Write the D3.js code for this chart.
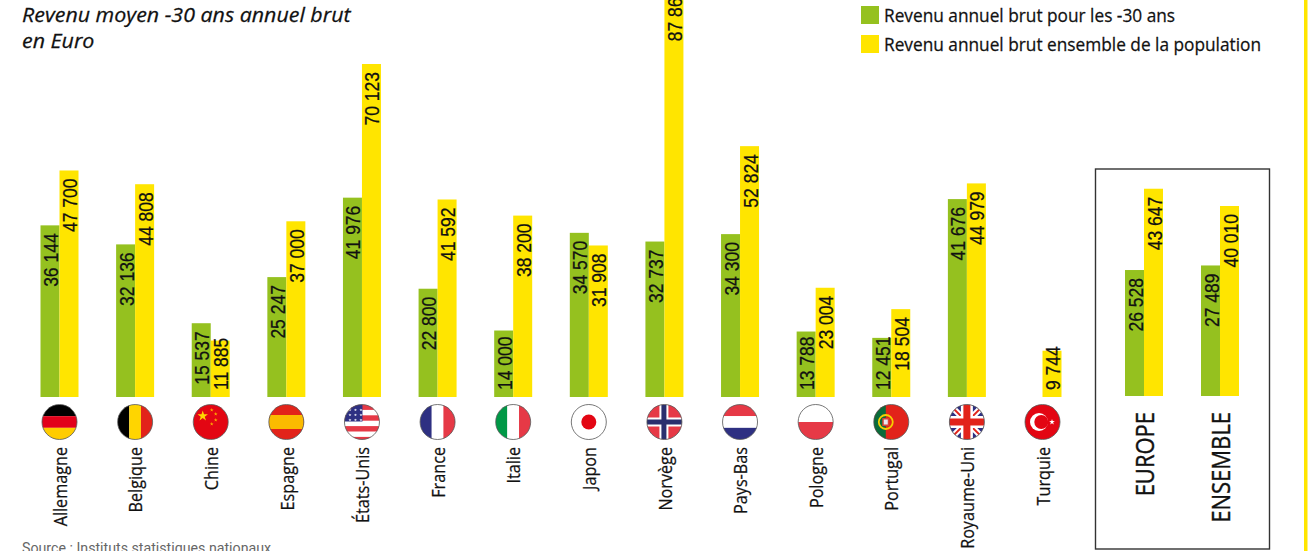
<!DOCTYPE html>
<html lang="fr">
<head>
<meta charset="utf-8">
<script src="https://cdn.jsdelivr.net/npm/d3@7"></script>
<style>
  html, body { margin: 0; padding: 0; background: #fff; overflow: hidden; }
  .val { font-family: "Liberation Sans", sans-serif; font-size: 20px; fill: #111; stroke: #111; stroke-width: 0.25px; }
  .name { font-family: "Open Sans", sans-serif; font-size: 18px; fill: #111; stroke: #111; stroke-width: 0.25px; }
  .agg { font-family: "Open Sans", sans-serif; font-size: 25px; fill: #111; stroke: #111; stroke-width: 0.4px; }
  .legend { font-family: "Open Sans", sans-serif; font-size: 18px; fill: #111; stroke: #111; stroke-width: 0.25px; }
  .title { font-family: "Open Sans", sans-serif; font-size: 20px; font-style: italic; fill: #111; stroke: #111; stroke-width: 0.25px; }
  .source { font-family: "Roboto", sans-serif; font-size: 14.2px; fill: #666; }
</style>
</head>
<body>
<div id="chart"></div>
<script>
const countries = ["Allemagne","Belgique","Chine","Espagne","États-Unis","France","Italie","Japon","Norvège","Pays-Bas","Pologne","Portugal","Royaume-Uni","Turquie"];
const young = [36144,32136,15537,25247,41976,22800,14000,34570,32737,34300,13788,12451,41676,null];
const all = [47700,44808,11885,37000,70123,41592,38200,31908,87860,52824,23004,18504,44979,9744];
const aggNames = ["EUROPE","ENSEMBLE"];
const aggYoung = [26528,27489];
const aggAll = [43647,40010];
const legendLabels = ["Revenu annuel brut pour les -30 ans","Revenu annuel brut ensemble de la population"];

const GREEN = "#95c11f", YELLOW = "#ffe500";
const width = 1316, height = 551;
const barW = 19;

const svg = d3.select("#chart").append("svg")
  .attr("width", width)
  .attr("height", height)
  .style("display", "block");

// value scale, same slope for the countries and the box
const y = d3.scaleLinear().domain([0, 70123]).range([397, 64]);
const yAgg = d3.scaleLinear().domain([0, 70123]).range([396, 63]);

const x = d3.scalePoint().domain(countries).range([59.5, 1042.5]);
const xAgg = d3.scalePoint().domain(aggNames).range([1144, 1220]);

const fmt = d => d3.format(",")(d).replace(",", " ");

function drawBars(names, xs, ys, series, color, dx) {
  const data = names.map((n, i) => ({name: n, v: series[i]})).filter(d => d.v != null);
  const g = svg.append("g");
  g.selectAll("rect").data(data).enter().append("rect")
    .attr("x", d => xs(d.name) + dx)
    .attr("y", d => ys(d.v))
    .attr("width", barW)
    .attr("height", d => ys(0) - ys(d.v))
    .attr("fill", color);
  // label hangs from the bar top, short bars get it sitting on the base instead
  const sx = 0.875;
  g.selectAll("text").data(data).enter().append("text")
    .attr("class", "val")
    .text(d => fmt(d.v))
    .attr("text-anchor", "end")
    .attr("transform", function(d) {
      const len = this.getComputedTextLength() * sx;
      let top = ys(d.v) + 8;
      if (top + len > ys(0) - 7) top = ys(0) - 7 - len;
      return "translate(" + (xs(d.name) + dx + 17.5) + "," + top + ")rotate(-90)scale(" + sx + ",1)";
    });
}

drawBars(countries, x, y, young, GREEN, -barW);
drawBars(countries, x, y, all, YELLOW, 0);
drawBars(aggNames, xAgg, yAgg, aggYoung, GREEN, -barW);
drawBars(aggNames, xAgg, yAgg, aggAll, YELLOW, 0);

// flags, drawn around their centre and clipped to a circle
const R = 17.5, flagY = 422;
svg.append("defs").append("clipPath").attr("id", "round")
  .append("circle").attr("r", R);

function stripes(g, cols, vertical) {
  const s = d3.scaleBand().domain(d3.range(cols.length)).range([-R, R]);
  cols.forEach((c, i) => {
    g.append("rect")
      .attr("x", vertical ? s(i) : -R).attr("y", vertical ? -R : s(i))
      .attr("width", vertical ? s.bandwidth() : 2 * R)
      .attr("height", vertical ? 2 * R : s.bandwidth())
      .attr("fill", c);
  });
}
function box(g, x0, y0, w, h, c) {
  g.append("rect").attr("x", x0).attr("y", y0).attr("width", w).attr("height", h).attr("fill", c);
}
function star(g, cx, cy, r, c) {
  g.append("path").attr("transform", "translate(" + cx + "," + cy + ")")
    .attr("d", d3.symbol(d3.symbolStar, r * r / 0.89)()).attr("fill", c);
}

const flags = {
  "Allemagne": g => { stripes(g, ["#000", "#e2001a", "#ffcc00"]); },
  "Belgique": g => { stripes(g, ["#000", "#ffd500", "#e2231a"], true); },
  "Chine": g => {
    box(g, -R, -R, 2 * R, 2 * R, "#e30613");
    star(g, -8, -6, 5.5, "#ffd500");
    [[1, -12], [5, -8], [5, -2], [1, 2]].forEach(p => star(g, p[0], p[1], 2, "#ffb000"));
  },
  "Espagne": g => {
    box(g, -R, -R, 2 * R, 2 * R, "#e2231a");
    box(g, -R, -7, 2 * R, 14, "#fbbb00");
  },
  "États-Unis": g => {
    box(g, -R, -R, 2 * R, 2 * R, "#fff");
    d3.range(0, 7).forEach(i => { if (i % 2 == 0) box(g, -R, -R + i * 5.4, 2 * R, 2.9 + 2.5, "#e63946"); });
    box(g, -R, -R, 18, 17, "#2e3082");
    d3.range(3).forEach(r => d3.range(3).forEach(c => star(g, -12 + c * 5.5, -12 + r * 5, 1.6, "#fff")));
  },
  "France": g => { stripes(g, ["#2e3082", "#fff", "#e63946"], true); },
  "Italie": g => { stripes(g, ["#009846", "#fff", "#e63946"], true); },
  "Japon": g => {
    box(g, -R, -R, 2 * R, 2 * R, "#fff");
    g.append("circle").attr("r", 7.5).attr("fill", "#e30613");
  },
  "Norvège": g => {
    box(g, -R, -R, 2 * R, 2 * R, "#e63946");
    box(g, -5, -R, 9, 2 * R, "#fff");
    box(g, -R, -4.5, 2 * R, 9, "#fff");
    box(g, -3, -R, 5, 2 * R, "#2a2f6e");
    box(g, -R, -2.5, 2 * R, 5, "#2a2f6e");
  },
  "Pays-Bas": g => { stripes(g, ["#e63946", "#fff", "#2e3082"]); },
  "Pologne": g => { stripes(g, ["#fff", "#e63946"]); },
  "Portugal": g => {
    box(g, -R, -R, 2 * R, 2 * R, "#e2231a");
    box(g, -R, -R, 12, 2 * R, "#0a6b3a");
    g.append("circle").attr("cx", -5.5).attr("r", 7).attr("fill", "none").attr("stroke", "#f5d000").attr("stroke-width", 1.8);
    box(g, -9, -4, 7, 8, "#d8453a");
    box(g, -7.5, -2.5, 4, 5, "#e8e8f0");
  },
  "Royaume-Uni": g => {
    box(g, -R, -R, 2 * R, 2 * R, "#2e3082");
    [["M-18,-18L18,18", 6, "#fff"], ["M-18,18L18,-18", 6, "#fff"], ["M-18,-18L18,18", 2, "#e2231a"], ["M-18,18L18,-18", 2, "#e2231a"]]
      .forEach(p => g.append("path").attr("d", p[0]).attr("stroke", p[2]).attr("stroke-width", p[1]));
    box(g, -R, -6, 2 * R, 12, "#fff");
    box(g, -6, -R, 12, 2 * R, "#fff");
    box(g, -R, -3.5, 2 * R, 7, "#e2231a");
    box(g, -3.5, -R, 7, 2 * R, "#e2231a");
  },
  "Turquie": g => {
    box(g, -R, -R, 2 * R, 2 * R, "#e30613");
    g.append("circle").attr("cx", -3.5).attr("r", 9).attr("fill", "#fff");
    g.append("circle").attr("cx", -1.2).attr("r", 7).attr("fill", "#e30613");
    star(g, 9.5, 0, 3, "#fff");
  }
};

countries.forEach(c => {
  const g = svg.append("g").attr("transform", "translate(" + x(c) + "," + flagY + ")");
  const inner = g.append("g").attr("clip-path", "url(#round)");
  flags[c](inner);
  g.append("circle").attr("r", R).attr("fill", "none").attr("stroke", "#555").attr("stroke-width", 0.8);
});

// country names
svg.append("g").selectAll("text").data(countries).enter().append("text")
  .attr("class", "name")
  .attr("text-anchor", "end")
  .attr("transform", d => "translate(" + (x(d) + 7.2) + ",447)rotate(-90)scale(0.9,1)")
  .text(d => d);

// box around Europe / Ensemble
svg.append("rect")
  .attr("x", 1095.5).attr("y", 169)
  .attr("width", 174).attr("height", 380)
  .attr("fill", "none").attr("stroke", "#333").attr("stroke-width", 1.4);
svg.append("g").selectAll("text").data(aggNames).enter().append("text")
  .attr("class", "agg")
  .attr("text-anchor", "end")
  .attr("transform", d => "translate(" + (xAgg(d) + 10) + ",412)rotate(-90)scale(0.88,1)")
  .text(d => d);

// legend
const legend = svg.append("g").selectAll("g").data(legendLabels).enter().append("g")
  .attr("transform", (d, i) => "translate(861," + (6 + i * 29) + ")");
legend.append("rect").attr("width", 18).attr("height", 18)
  .attr("fill", (d, i) => i == 0 ? GREEN : YELLOW);
legend.append("text").attr("class", "legend")
  .attr("transform", "translate(23,16)scale(0.96,1)")
  .text(d => d);

// title, source, right rule
svg.append("text").attr("class", "title").attr("transform", "translate(22,21.7)scale(1.07,1)").text("Revenu moyen -30 ans annuel brut");
svg.append("text").attr("class", "title").attr("transform", "translate(22,48)scale(1.07,1)").text("en Euro");
svg.append("text").attr("class", "source").attr("x", 22).attr("y", 553).text("Source : Instituts statistiques nationaux");
svg.append("rect").attr("x", 1304).attr("y", 0).attr("width", 3.5).attr("height", height).attr("fill", YELLOW);
</script>
</body>
</html>
